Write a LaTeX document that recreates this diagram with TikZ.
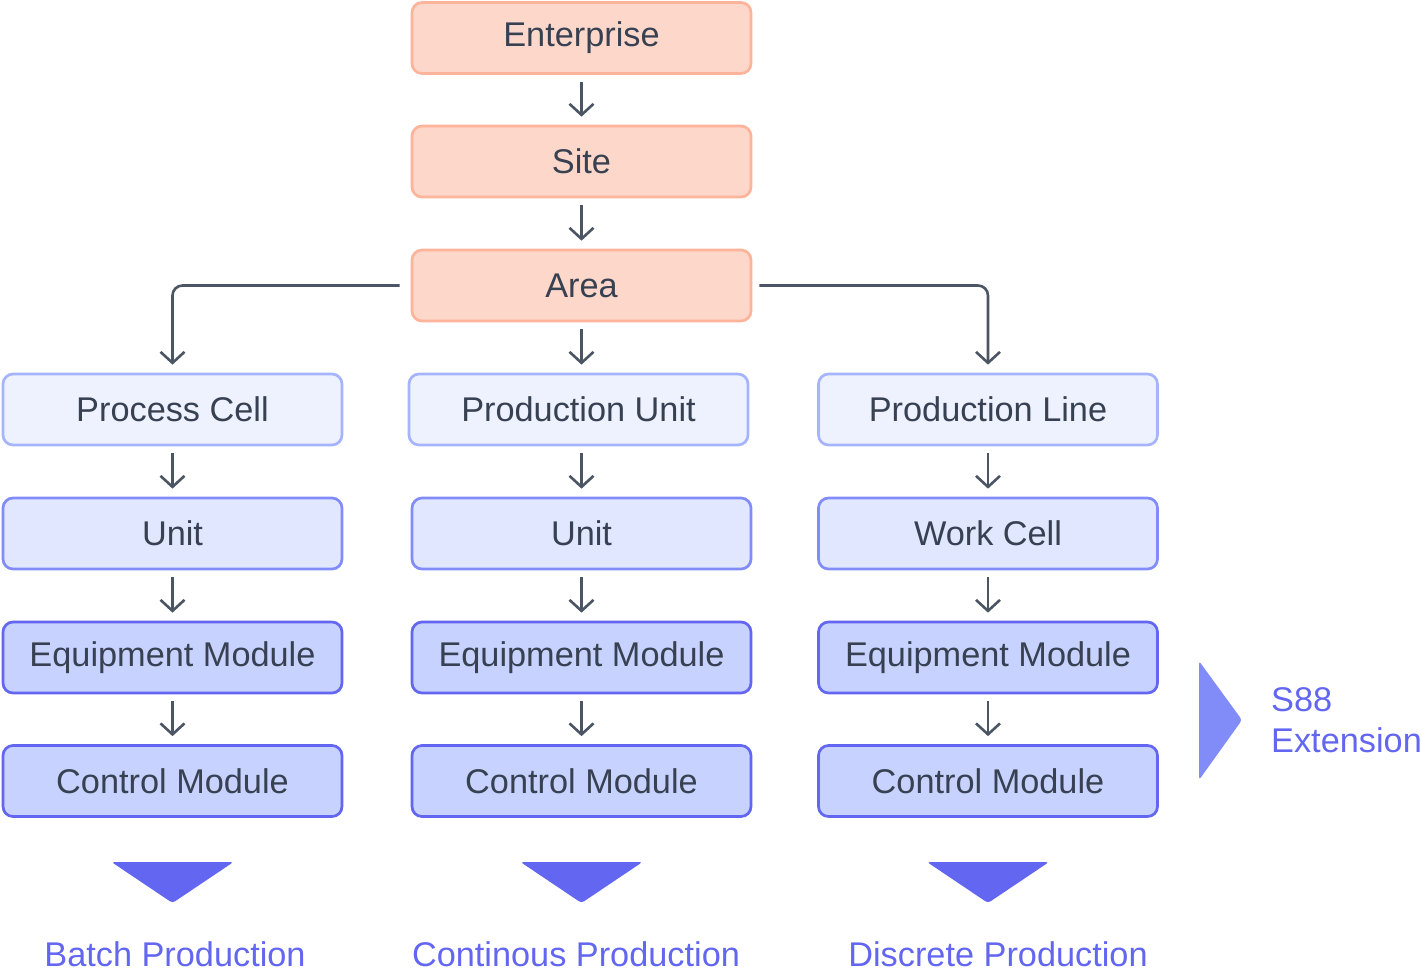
\documentclass[tikz,border=0pt]{standalone}
\usepackage{fontspec}
\setmainfont{Liberation Sans}
\usetikzlibrary{arrows.meta}
\definecolor{txt}{HTML}{374151}
\definecolor{arrc}{HTML}{4B5563}
\definecolor{orfill}{HTML}{FED7CB}
\definecolor{ordraw}{HTML}{FDB49B}
\definecolor{pafill}{HTML}{EEF2FF}
\definecolor{padraw}{HTML}{A5B4FC}
\definecolor{lifill}{HTML}{E0E7FF}
\definecolor{lidraw}{HTML}{818CF8}
\definecolor{mefill}{HTML}{C7D2FE}
\definecolor{medraw}{HTML}{6366F1}
\definecolor{tri}{HTML}{6366F1}
\definecolor{trir}{HTML}{818CF8}
\tikzset{
  box/.style={rounded corners=10pt, line width=2.7pt, minimum width=339pt, minimum height=71pt,
    inner sep=0pt, text=txt, font=\fontsize{34.3}{40}\selectfont},
  orbox/.style={box, fill=orfill, draw=ordraw},
  pabox/.style={box, fill=pafill, draw=padraw},
  libox/.style={box, fill=lifill, draw=lidraw},
  mebox/.style={box, fill=mefill, draw=medraw},
  arr/.style={draw=arrc, line width=2.6pt, -{Straight Barb[length=11pt,width=24pt,line width=2.6pt]}},
  lbl/.style={text=tri, font=\fontsize{34.3}{41}\selectfont, inner sep=0pt}
}
\begin{document}
\begin{tikzpicture}[x=1pt,y=-1pt]
\useasboundingbox (0,0) rectangle (1421,978);
\node[orbox] (ent) at (581.5,38) {Enterprise};
\node[orbox] (site) at (581.5,161.5) {Site};
\node[orbox] (area) at (581.5,285.5) {Area};
\node[pabox] (pc) at (172.5,409.5) {Process Cell};
\node[pabox] (pu) at (578.5,409.5) {Production Unit};
\node[pabox] (pl) at (988,409.5) {Production Line};
\node[libox] (u1) at (172.5,533.5) {Unit};
\node[libox] (u2) at (581.5,533.5) {Unit};
\node[libox] (wc) at (988,533.5) {Work Cell};
\node[mebox] (em1) at (172.5,657.5) {Equipment Module};
\node[mebox] (em2) at (581.5,657.5) {Equipment Module};
\node[mebox] (em3) at (988,657.5) {Equipment Module};
\node[mebox] (cm1) at (172.5,781) {Control Module};
\node[mebox] (cm2) at (581.5,781) {Control Module};
\node[mebox] (cm3) at (988,781) {Control Module};
% arrows
\draw[arr, shorten <=7pt, shorten >=8pt] (ent.south) -- (site.north);
\draw[arr, shorten <=7pt, shorten >=8pt] (site.south) -- (area.north);
\draw[arr, shorten <=7pt, shorten >=8pt] (area.south) -- (area.south |- pu.north);
\draw[arr, rounded corners=10pt, shorten <=11pt, shorten >=8pt] (area.west) -| (pc.north);
\draw[arr, rounded corners=10pt, shorten <=7pt, shorten >=8pt] (area.east) -| (pl.north);
\draw[arr, shorten <=7pt, shorten >=8pt] (pc.south) -- (u1.north);
\draw[arr, shorten <=7pt, shorten >=8pt] (u2.north |- pu.south) -- (u2.north);
\draw[arr, shorten <=7pt, shorten >=8pt] (pl.south) -- (wc.north);
\draw[arr, shorten <=7pt, shorten >=8pt] (u1.south) -- (em1.north);
\draw[arr, shorten <=7pt, shorten >=8pt] (u2.south) -- (em2.north);
\draw[arr, shorten <=7pt, shorten >=8pt] (wc.south) -- (em3.north);
\draw[arr, shorten <=7pt, shorten >=8pt] (em1.south) -- (cm1.north);
\draw[arr, shorten <=7pt, shorten >=8pt] (em2.south) -- (cm2.north);
\draw[arr, shorten <=7pt, shorten >=8pt] (em3.south) -- (cm3.north);
% triangles
\foreach \cx in {172.5,581.5,988}{
  \fill[tri, rounded corners=3pt] (\cx-61,862) -- (\cx+61,862) -- (\cx,903) -- cycle;
}
\fill[trir, rounded corners=3pt] (1199,661) -- (1242,720) -- (1199,780) -- cycle;
% labels
\node[lbl, anchor=base] (bp) at (175,966) {Batch Production};
\node[lbl, anchor=base] (cp) at (576,966) {Continous Production};
\node[lbl, anchor=base] (dp) at (998,966) {Discrete Production};
\node[lbl, anchor=base west, align=left] (s88) at (1271,752) {S88\\Extension};
\end{tikzpicture}
\end{document}
